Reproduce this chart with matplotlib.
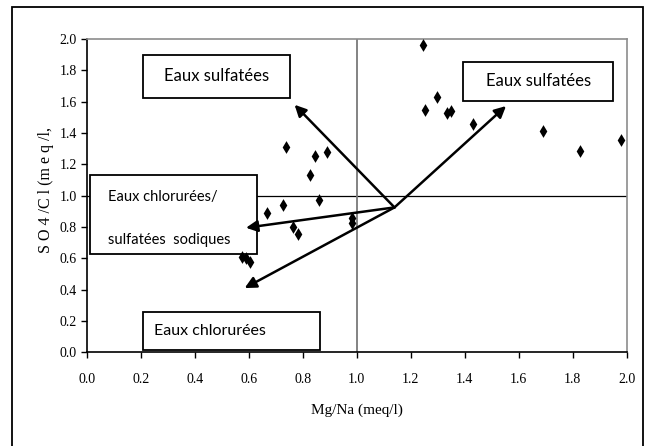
import matplotlib
matplotlib.use("Agg")
import matplotlib.pyplot as plt
from matplotlib.patches import Rectangle, FancyArrowPatch

# Data: Mg/Na vs SO4/Cl (meq/l)
mg_na = [1.245, 1.253, 1.296, 1.335, 1.350, 1.430, 1.691, 1.827, 1.978,
         0.737, 0.846, 0.890, 0.828, 0.859, 0.728, 0.668, 0.763, 0.784,
         0.981, 0.981, 0.574, 0.590, 0.605]
so4_cl = [1.960, 1.547, 1.628, 1.530, 1.540, 1.455, 1.415, 1.287, 1.355,
          1.312, 1.253, 1.277, 1.132, 0.972, 0.940, 0.887, 0.802, 0.755,
          0.855, 0.827, 0.610, 0.600, 0.578]

x_ticks = [0.0, 0.2, 0.4, 0.6, 0.8, 1.0, 1.2, 1.4, 1.6, 1.8, 2.0]
y_ticks = [0.0, 0.2, 0.4, 0.6, 0.8, 1.0, 1.2, 1.4, 1.6, 1.8, 2.0]

arrow_origin = (1.14, 0.925)
arrow_tips = [(0.77, 1.58), (1.553, 1.572), (0.59, 0.795), (0.585, 0.41)]

W, H = 651, 446
fig = plt.figure(figsize=(W / 100, H / 100), dpi=100)
ax = fig.add_axes([86.7 / W, 1 - 352.3 / H, 540 / W, 313.3 / H])

serif = "Liberation Serif"
sans = "Lato"

# outer frame
fig.patches.append(Rectangle((12.3 / W, -0.05), (642.5 - 12.3) / W, 1.05 - 6.7 / H,
                             transform=fig.transFigure, fill=False,
                             edgecolor="black", linewidth=1.3))

ax.set_xlim(0, 2.0)
ax.set_ylim(0, 2.0)
ax.set_xticks(x_ticks)
ax.set_yticks(y_ticks)
ax.set_xticklabels([f"{v:.1f}" for v in x_ticks], fontfamily=serif, fontsize=10)
ax.set_yticklabels([f"{v:.1f}" for v in y_ticks], fontfamily=serif, fontsize=10)
ax.tick_params(axis="x", direction="out", length=4, width=1, pad=11)
ax.tick_params(axis="y", direction="out", length=4, width=1, pad=3)

for s in ["left", "bottom"]:
    ax.spines[s].set_color("black")
    ax.spines[s].set_linewidth(1.2)
for s in ["top", "right"]:
    ax.spines[s].set_color("#8c8c8c")
    ax.spines[s].set_linewidth(1.2)

ax.axhline(1.0, color="black", linewidth=0.9, zorder=1)
ax.axvline(1.0, color="#7a7a7a", linewidth=1.3, zorder=1)

ax.scatter(mg_na, so4_cl, marker="d", s=42, color="black", zorder=4,
           linewidths=0)

def box(x0, y0, x1, y1):
    ax.add_patch(Rectangle((x0, y0), x1 - x0, y1 - y0, facecolor="white",
                           edgecolor="black", linewidth=1.3, zorder=3,
                           clip_on=False))

box(0.209, 1.626, 0.752, 1.900)
box(1.395, 1.604, 1.951, 1.855)
box(0.0126, 0.626, 0.629, 1.132)
box(0.209, 0.015, 0.864, 0.257)

ax.text(0.48, 1.765, "Eaux sulfatées", fontfamily=sans, fontsize=12,
        ha="center", va="center", zorder=5)
ax.text(1.672, 1.732, "Eaux sulfatées", fontfamily=sans, fontsize=12,
        ha="center", va="center", zorder=5)
ax.text(0.079, 0.99, "Eaux chlorurées/", fontfamily=sans, fontsize=10.5,
        ha="left", va="center", zorder=5)
ax.text(0.079, 0.715, "sulfatées  sodiques", fontfamily=sans, fontsize=10.5,
        ha="left", va="center", zorder=5)
ax.text(0.457, 0.136, "Eaux chlorurées", fontfamily=sans, fontsize=11.5,
        ha="center", va="center", zorder=5)

for tip in arrow_tips:
    ax.add_patch(FancyArrowPatch(arrow_origin, tip, arrowstyle="-|>",
                                 mutation_scale=17, color="black",
                                 linewidth=1.8, zorder=6, shrinkA=0, shrinkB=0))

fig.text(356.7 / W, 1 - 410 / H, "Mg/Na (meq/l)", fontfamily=serif,
         fontsize=11, ha="center", va="center")
fig.text(46 / W, 1 - 190 / H, "S O 4 /C l (m e q /l,", fontfamily=serif,
         fontsize=11.5, ha="center", va="center", rotation=90)

fig.savefig("out.png", dpi=100)
